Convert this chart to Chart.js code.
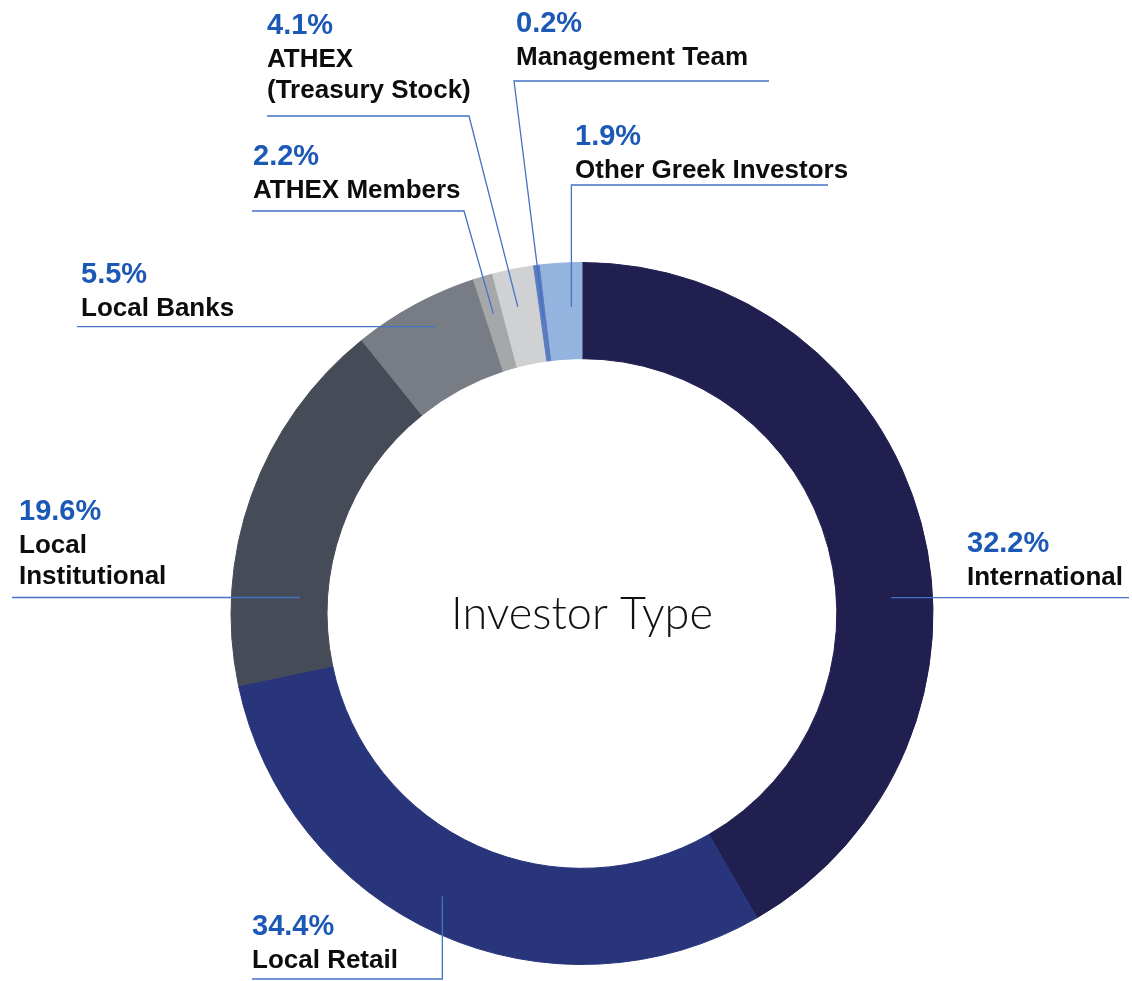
<!DOCTYPE html>
<html>
<head>
<meta charset="utf-8">
<title>Investor Type</title>
<script src="https://cdn.jsdelivr.net/npm/chart.js@4.4.1/dist/chart.umd.min.js"></script>
<style>
    html, body { margin: 0; padding: 0; background: #ffffff; }
    #wrap { width: 1132px; height: 981px; }
</style>
</head>
<body>
<div id="wrap"><canvas id="myChart1" width="1132" height="981"></canvas></div>
<script>
/*================================
   data
=================================*/
var categories = ['International', 'Local Retail', 'Local Institutional', 'Local Banks',
    'ATHEX Members', 'ATHEX (Treasury Stock)', 'Management Team', 'Other Greek Investors'];
// arc sizes as they are drawn in the picture
var shares = [41.7, 30.0, 17.5, 5.8, 0.9, 1.9, 0.3, 1.9];
// percentages printed next to each slice
var pctLabels = ['32.2%', '34.4%', '19.6%', '5.5%', '2.2%', '4.1%', '0.2%', '1.9%'];
// label text, one entry per line
var labelLines = [
    ['International'], ['Local Retail'], ['Local', 'Institutional'], ['Local Banks'],
    ['ATHEX Members'], ['ATHEX', '(Treasury Stock)'], ['Management Team'], ['Other Greek Investors']
];
var sliceColors = ['#201f4f', '#29357a', '#464c57', '#787c84', '#a6a7a9', '#d0d1d3', '#5a7bbf', '#95b3df'];

/*================================
   label layout
   x / pctY : where the text goes
   t / f    : where the leader starts on the slice (angle fraction, ring fraction)
   elbowX / lineY / endX : leader path (null lineY = straight horizontal)
=================================*/
var labelLayout = [
    { x: 967, pctY: 552, t: 0.58, f: 0.57, elbowX: null, lineY: null, endX: 1129 },
    { x: 252, pctY: 935, t: 0.52, f: 0.63, elbowX: null, lineY: 979, endX: 252 },
    { x: 19,  pctY: 520, t: 0.24, f: 0.29, elbowX: null, lineY: null, endX: 12 },
    { x: 81,  pctY: 283, t: 0.565, f: 0.70, elbowX: null, lineY: null, endX: 77 },
    { x: 253, pctY: 165, t: 0.47, f: 0.60, elbowX: 464, lineY: 211, endX: 252 },
    { x: 267, pctY: 34,  t: 0.43, f: 0.61, elbowX: 469, lineY: 116, endX: 267 },
    { x: 516, pctY: 32,  t: 0.5,  f: 0.45, elbowX: 514, lineY: 81,  endX: 769 },
    { x: 575, pctY: 145, t: 0.71, f: 0.54, elbowX: null, lineY: 185, endX: 828 }
];

/*================================
   labels + leader lines + centre title
=================================*/
var investorLabels = {
    id: 'investorLabels',
    afterDraw: function(chart) {
        var ctx = chart.ctx;
        var arcs = chart.getDatasetMeta(0).data;
        ctx.save();

        // centre title
        var c = arcs[0];
        ctx.fillStyle = '#111111';
        ctx.font = '300 45px "Lato"';
        ctx.textAlign = 'center';
        ctx.textBaseline = 'alphabetic';
        ctx.fillText('Investor Type', c.x, c.y + 15);

        ctx.textAlign = 'left';
        for (var i = 0; i < arcs.length; i++) {
            var a = arcs[i];
            var lay = labelLayout[i];
            var ang = a.startAngle + lay.t * (a.endAngle - a.startAngle);
            var r = a.innerRadius + lay.f * (a.outerRadius - a.innerRadius);
            var ax = a.x + r * Math.cos(ang);
            var ay = a.y + r * Math.sin(ang);

            // leader line
            ctx.strokeStyle = '#4472c4';
            ctx.lineWidth = 1.3;
            ctx.beginPath();
            ctx.moveTo(ax, ay);
            if (lay.lineY === null) {
                ctx.lineTo(lay.endX, ay);
            } else {
                var ex = lay.elbowX === null ? ax : lay.elbowX;
                ctx.lineTo(ex, lay.lineY);
                ctx.lineTo(lay.endX, lay.lineY);
            }
            ctx.stroke();

            // percentage
            ctx.fillStyle = '#1c58b5';
            ctx.font = 'bold 29px "Liberation Sans"';
            ctx.fillText(pctLabels[i], lay.x, lay.pctY);

            // name
            ctx.fillStyle = '#0d0d0d';
            ctx.font = 'bold 26px "Liberation Sans"';
            for (var j = 0; j < labelLines[i].length; j++) {
                ctx.fillText(labelLines[i][j], lay.x, lay.pctY + 32.5 + j * 31.7);
            }
        }
        ctx.restore();
    }
};

/*================================
   doughnut
=================================*/
var ctx = document.getElementById('myChart1');
var myDoughnut = new Chart(ctx, {
    type: 'doughnut',
    data: {
        labels: categories,
        datasets: [{
            data: shares,
            backgroundColor: sliceColors,
            borderColor: sliceColors,
            borderWidth: 1,
            hoverOffset: 0
        }]
    },
    options: {
        responsive: false,
        devicePixelRatio: 1,
        animation: false,
        cutout: '72.6%',
        layout: {
            padding: { left: 230.5, right: 198.5, top: 262, bottom: 16 }
        },
        plugins: {
            legend: { display: false },
            tooltip: { enabled: false }
        }
    },
    plugins: [investorLabels]
});
</script>
</body>
</html>
